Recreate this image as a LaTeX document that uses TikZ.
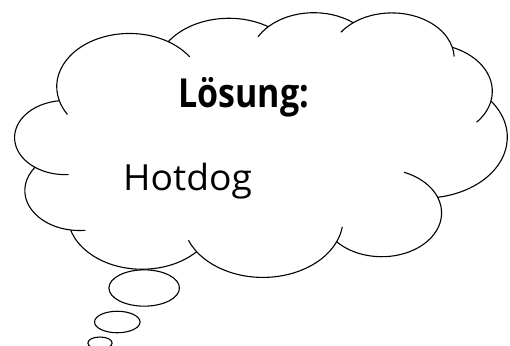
\documentclass[tikz,border=0pt]{standalone}
\usepackage{fontspec}
\usepackage{graphicx}
\usetikzlibrary{shapes.geometric}
\newfontfamily\opensans{Open Sans}
\def\kk{1.367}% common aspect of the cloud lobes (x radius / y radius)
% one lobe of the cloud: name, start point, middle point, end point (px, y down)
\newcommand\lobe[7]{%
 \pgfmathsetmacro\tXa{#2/100}\pgfmathsetmacro\tYa{-(#3)*\kk/100}%
 \pgfmathsetmacro\tXb{#4/100}\pgfmathsetmacro\tYb{-(#5)*\kk/100}%
 \pgfmathsetmacro\tXc{#6/100}\pgfmathsetmacro\tYc{-(#7)*\kk/100}%
 \pgfmathsetmacro\tQa{(\tXa)*(\tXa)+(\tYa)*(\tYa)}%
 \pgfmathsetmacro\tQb{(\tXb)*(\tXb)+(\tYb)*(\tYb)}%
 \pgfmathsetmacro\tQc{(\tXc)*(\tXc)+(\tYc)*(\tYc)}%
 \pgfmathsetmacro\tD{2*((\tXa)*((\tYb)-(\tYc))+(\tXb)*((\tYc)-(\tYa))+(\tXc)*((\tYa)-(\tYb)))}%
 \pgfmathsetmacro\tUx{((\tQa)*((\tYb)-(\tYc))+(\tQb)*((\tYc)-(\tYa))+(\tQc)*((\tYa)-(\tYb)))/(\tD)}%
 \pgfmathsetmacro\tUy{((\tQa)*((\tXc)-(\tXb))+(\tQb)*((\tXa)-(\tXc))+(\tQc)*((\tXb)-(\tXa)))/(\tD)}%
 \pgfmathsetmacro\tR{sqrt(((\tXa)-(\tUx))*((\tXa)-(\tUx))+((\tYa)-(\tUy))*((\tYa)-(\tUy)))}%
 \pgfmathsetmacro\tSa{atan2((\tYa)-(\tUy),(\tXa)-(\tUx))}%
 \pgfmathsetmacro\tSb{atan2((\tYc)-(\tUy),(\tXc)-(\tUx))}%
 \pgfmathsetmacro\tSb{ifthenelse(\tSb>\tSa,\tSb-360,\tSb)}%
 \pgfmathsetmacro\tRx{\tR*100}\pgfmathsetmacro\tRy{\tR*100/\kk}%
 \pgfpatharc{\tSa}{\tSb}{\tRx pt and \tRy pt}%
 \expandafter\xdef\csname lobeX#1\endcsname{\tUx}%
 \expandafter\xdef\csname lobeY#1\endcsname{\tUy}%
 \expandafter\xdef\csname lobeR#1\endcsname{\tR}%
}
% inner line: continuation of a lobe, from point to point (px, y down), clockwise
\newcommand\innerline[5]{%
 \edef\tUx{\csname lobeX#1\endcsname}\edef\tUy{\csname lobeY#1\endcsname}\edef\tR{\csname lobeR#1\endcsname}%
 \pgfmathsetmacro\tXa{#2/100}\pgfmathsetmacro\tYa{-(#3)*\kk/100}%
 \pgfmathsetmacro\tXc{#4/100}\pgfmathsetmacro\tYc{-(#5)*\kk/100}%
 \pgfmathsetmacro\tSa{atan2((\tYa)-(\tUy),(\tXa)-(\tUx))}%
 \pgfmathsetmacro\tSb{atan2((\tYc)-(\tUy),(\tXc)-(\tUx))}%
 \pgfmathsetmacro\tSb{ifthenelse(\tSb>\tSa,\tSb-360,\tSb)}%
 \pgfmathsetmacro\tRx{\tR*100}\pgfmathsetmacro\tRy{\tR*100/\kk}%
 \pgfpathmoveto{\pgfpoint{((\tUx)*100+(\tRx)*cos(\tSa))*1pt}{((\tUy)*100/\kk+(\tRy)*sin(\tSa))*1pt}}%
 \pgfpatharc{\tSa}{\tSb}{\tRx pt and \tRy pt}%
}
\tikzset{
  bubble/.style={draw, ellipse, line width=1.1pt, inner sep=0pt},
  lbl/.style={anchor=base west, inner sep=0pt}
}
\begin{document}
\begin{tikzpicture}[x=1pt,y=-1pt]
\useasboundingbox (0,0) rectangle (510,345);
\begin{scope}[line width=1.1pt, line join=round]
\pgfpathmoveto{\pgfpoint{59.3pt}{-100.7pt}}
\lobe{a}{59.3}{100.7}{126.7}{33.5}{168.3}{41.7}
\lobe{b}{168.3}{41.7}{226.7}{18.3}{268.3}{26.7}
\lobe{c}{268.3}{26.7}{313.3}{12.7}{353.3}{22.7}
\lobe{d}{353.3}{22.7}{400}{13.3}{452.3}{47.3}
\lobe{e}{452.3}{47.3}{480}{63.3}{491}{101}
\lobe{f}{491}{101}{507}{143}{437.7}{197.3}
\lobe{g}{437.7}{197.3}{380}{256.7}{336.7}{241.7}
\lobe{h}{336.7}{241.7}{263.3}{277.4}{196.7}{251.7}
\lobe{i}{196.7}{251.7}{115}{265.5}{70.7}{230}
\lobe{j}{70.7}{230}{25}{193.3}{35}{167.3}
\lobe{k}{35}{167.3}{14.7}{135}{59.3}{100.7}
\pgfpathclose
\pgfusepath{draw}
\innerline{a}{64}{116}{59.3}{100.7}
\innerline{a}{168.3}{41.7}{190}{56.7}
\innerline{c}{261.7}{38.3}{268.3}{26.7}
\innerline{d}{342.7}{33.3}{353.3}{22.7}
\innerline{d}{452.3}{47.3}{452.7}{56.7}
\innerline{e}{491}{101}{477.3}{122.7}
\innerline{g}{409}{163.3}{437.7}{197.3}
\innerline{h}{340}{226.7}{336.7}{241.7}
\innerline{h}{196.7}{251.7}{189.3}{240}
\innerline{j}{85}{227.7}{70.7}{230}
\innerline{k}{68.3}{170.7}{35}{167.3}
\pgfusepath{draw}
\end{scope}
\node[bubble, minimum width=70.5pt, minimum height=36.3pt] (b1) at (144.2,288) {};
\node[bubble, minimum width=45.5pt, minimum height=21.5pt] (b2) at (117.3,322) {};
\node[bubble, minimum width=24.3pt, minimum height=12pt] (b3) at (100,343) {};
\node[lbl, font=\opensans\bfseries\fontsize{40}{40}\selectfont] (loesung) at (178,107.3) {\scalebox{0.85}[1]{Lösung:}};
\node[lbl, font=\opensans\fontsize{36}{36}\selectfont] (hotdog) at (123,190) {\scalebox{1.035}[1]{Hotdog}};
\end{tikzpicture}
\end{document}
